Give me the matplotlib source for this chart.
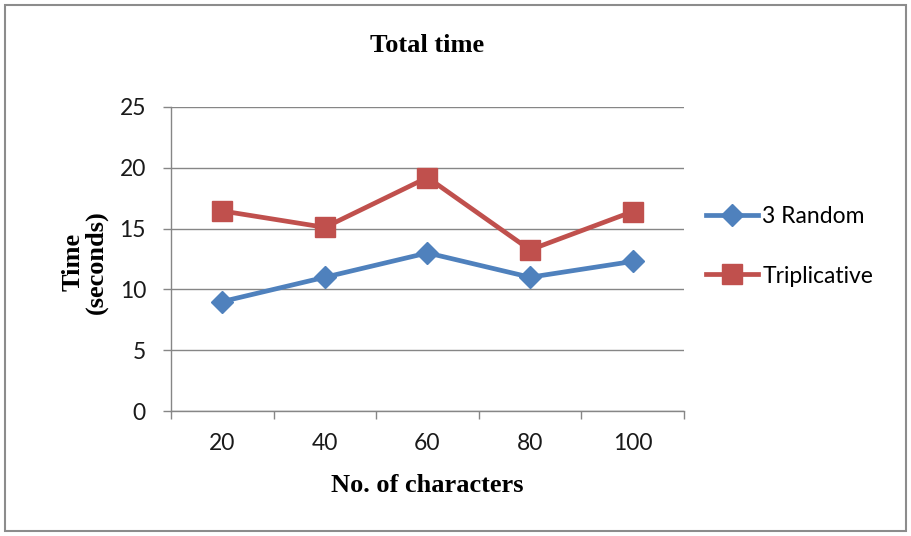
import numpy as np
import matplotlib.pyplot as plt
from matplotlib.patches import Rectangle
from matplotlib.ticker import FixedLocator

categories = ["20", "40", "60", "80", "100"]
random3 = [9.0, 11.0, 13.0, 11.0, 12.3]
triplicative = [16.45, 15.1, 19.2, 13.25, 16.4]
y_ticks = [0, 5, 10, 15, 20, 25]

BLUE = "#4F81BD"
RED = "#C0504D"
GRID = "#868686"

fig = plt.figure(figsize=(9.11, 5.36), dpi=100)
ax = fig.add_axes([0.1877, 0.2332, 0.5631, 0.5672])

x = np.arange(1, len(categories) + 1)
ax.plot(x, random3, color=BLUE, linewidth=3.4, marker="D", markersize=11.5,
        label="3 Random", zorder=3)
ax.plot(x, triplicative, color=RED, linewidth=3.4, marker="s", markersize=14,
        label="Triplicative", zorder=4)

ax.set_xlim(0.5, len(categories) + 0.5)
ax.set_ylim(0, 25)
ax.set_yticks(y_ticks)
ax.set_xticks(x)
ax.set_xticklabels(categories)
ax.xaxis.set_minor_locator(FixedLocator(np.arange(0.5, len(categories) + 1, 1)))
ax.tick_params(axis="x", which="major", length=0, pad=16)
ax.tick_params(axis="x", which="minor", length=6, color=GRID, width=1)
ax.tick_params(axis="y", length=6, color=GRID, width=1, pad=12)
for lbl in ax.get_xticklabels() + ax.get_yticklabels():
    lbl.set_fontfamily("Lato")
    lbl.set_fontsize(16.5)
    lbl.set_color("#1a1a1a")

ax.grid(axis="y", color=GRID, linewidth=1)
ax.set_axisbelow(True)
for side in ["top", "right"]:
    ax.spines[side].set_visible(False)
for side in ["left", "bottom"]:
    ax.spines[side].set_color(GRID)
    ax.spines[side].set_linewidth(1)

fig.text(0.469, 0.916, "Total time", ha="center", va="center",
         fontfamily="Liberation Serif", fontweight="bold", fontsize=19)
fig.text(0.469, 0.095, "No. of characters", ha="center", va="center",
         fontfamily="Liberation Serif", fontweight="bold", fontsize=19)
fig.text(0.093, 0.511, "Time\n(seconds)", ha="center", va="center",
         rotation=90, fontfamily="Liberation Serif", fontweight="bold",
         fontsize=19, linespacing=1.0)

leg = fig.legend(loc="center left", bbox_to_anchor=(0.752, 0.541),
                 frameon=False, prop={"family": "Lato", "size": 16.5},
                 handlelength=2.3, handletextpad=0.17, labelspacing=1.7)

fig.patches.append(Rectangle((0.006, 0.009), 0.988, 0.982,
                             transform=fig.transFigure, fill=False,
                             edgecolor="#8c8c8c", linewidth=1.5))

fig.savefig("out.png", dpi=100)
